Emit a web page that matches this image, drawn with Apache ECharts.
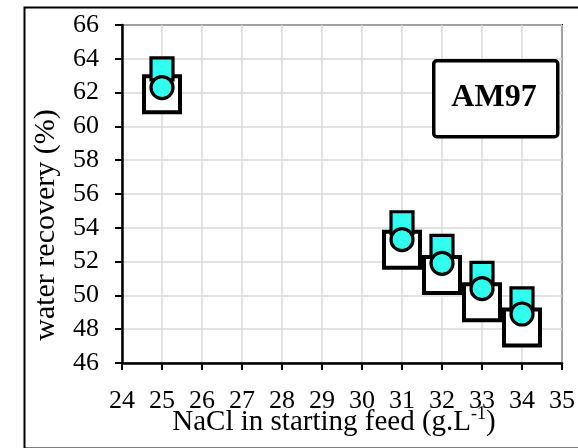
<!DOCTYPE html>
<html>
<head>
<meta charset="utf-8">
<script src="https://cdn.jsdelivr.net/npm/echarts@6/dist/echarts.min.js"></script>
<style>
html,body{margin:0;padding:0;background:#fff;}
#chart{width:578px;height:448px;}
</style>
</head>
<body>
<div id="chart"></div>
<script>
var nacl = [25, 31, 32, 33, 34];
var openSquare = [61.9, 52.7, 51.2, 49.6, 48.1];
var cyanSquare = [63.4, 54.3, 52.9, 51.3, 49.8];
var cyanCircle = [62.3, 53.3, 51.9, 50.4, 48.9];
var xTicks = [24, 25, 26, 27, 28, 29, 30, 31, 32, 33, 34, 35];
var yTicks = [46, 48, 50, 52, 54, 56, 58, 60, 62, 64, 66];
var labelText = 'AM97';
var xTitle = 'NaCl in starting feed (g.L';
var xTitleSup = '-1';
var yTitle = 'water recovery (%)';

function pairs(xs, ys) { return xs.map(function (x, i) { return [x, ys[i]]; }); }

var FONT = "'Liberation Serif', 'Times New Roman', serif";
var CYAN = '#30fff0';

var chart = echarts.init(document.getElementById('chart'), null, { renderer: 'canvas' });
chart.setOption({
  backgroundColor: '#ffffff',
  animation: false,
  grid: { left: 122, right: 9, top: 25, bottom: 85, show: true, borderColor: '#000', borderWidth: 2, backgroundColor: 'transparent' },
  xAxis: {
    type: 'value', min: xTicks[0], max: xTicks[xTicks.length - 1], interval: 1,
    axisLine: { show: true, lineStyle: { color: '#000', width: 2.5 } },
    axisTick: { show: true, inside: false, length: 7, lineStyle: { color: '#000', width: 2 } },
    axisLabel: { color: '#000', fontFamily: FONT, fontSize: 26, margin: 25 },
    splitLine: { show: true, lineStyle: { color: '#d9d9d9', width: 1.5 } }
  },
  yAxis: {
    type: 'value', min: yTicks[0], max: yTicks[yTicks.length - 1], interval: 2,
    axisLine: { show: true, lineStyle: { color: '#000', width: 2.5 } },
    axisTick: { show: true, inside: false, length: 7, lineStyle: { color: '#000', width: 2 } },
    axisLabel: { color: '#000', fontFamily: FONT, fontSize: 26, margin: 23 },
    splitLine: { show: true, lineStyle: { color: '#d9d9d9', width: 1.5 } }
  },
  series: [
    { type: 'scatter', data: pairs(nacl, openSquare), symbol: 'rect', symbolSize: 36, z: 2,
      itemStyle: { color: '#fff', borderColor: '#000', borderWidth: 4, opacity: 1 } },
    { type: 'scatter', data: pairs(nacl, cyanSquare), symbol: 'rect', symbolSize: 22, z: 3,
      itemStyle: { color: CYAN, borderColor: '#000', borderWidth: 3.2, opacity: 1 } },
    { type: 'scatter', data: pairs(nacl, cyanCircle), symbol: 'circle', symbolSize: 22, z: 4,
      itemStyle: { color: CYAN, borderColor: '#000', borderWidth: 3.2, opacity: 1 } }
  ],
  graphic: [
    { type: 'rect', left: 22, top: 5, shape: { width: 620, height: 441 }, z: -1, silent: true,
      style: { fill: 'none', stroke: '#000', lineWidth: 2 } },
    { type: 'rect', left: 432, top: 59, shape: { width: 124, height: 76, r: 3 }, z: 10,
      style: { fill: '#fff', stroke: '#000', lineWidth: 3.5 } },
    { type: 'text', x: 494, y: 98, z: 11,
      style: { text: labelText, fill: '#000', font: "bold 32px " + FONT, align: 'center', verticalAlign: 'middle' } },
    { type: 'text', x: 334, y: 422, z: 11,
      style: { text: '{m|' + xTitle + '}{s|' + xTitleSup + '}{m|)}', align: 'center', verticalAlign: 'middle',
        rich: {
          m: { fontFamily: FONT, fontSize: 29, fill: '#000', lineHeight: 33 },
          s: { fontFamily: FONT, fontSize: 18, fill: '#000', lineHeight: 18, verticalAlign: 'top' }
        } } },
    { type: 'text', x: 46, y: 225, rotation: Math.PI / 2, z: 11,
      style: { text: yTitle, fill: '#000', font: "30px " + FONT, align: 'center', verticalAlign: 'middle' } }
  ]
});
</script>
</body>
</html>
